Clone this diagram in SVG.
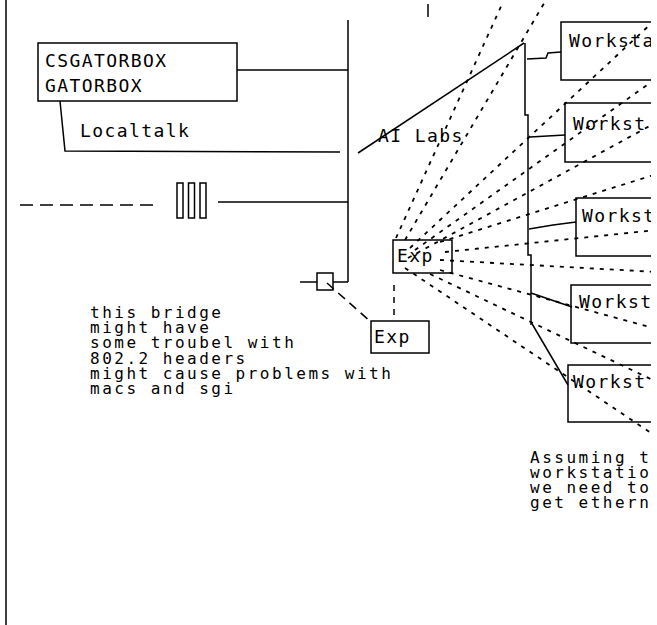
<svg xmlns="http://www.w3.org/2000/svg" width="657" height="625" viewBox="0 0 657 625">
<defs>
  <clipPath id="page"><rect x="0" y="0" width="651" height="625"/></clipPath>
</defs>
<style>
  .ln{fill:none;stroke:#000;stroke-width:1.5}
  .box{fill:none;stroke:#000;stroke-width:1.5}
  .ray{fill:none;stroke:#000;stroke-width:1.8;stroke-dasharray:4 6}
  .dash{fill:none;stroke:#000;stroke-width:1.6;stroke-dasharray:13 7}
  .lbl{font-family:"DejaVu Sans Mono","Liberation Mono",monospace;font-size:18px;letter-spacing:1.4px;fill:#000}
  .note{font-family:"DejaVu Sans Mono","Liberation Mono",monospace;font-size:16px;letter-spacing:2.5px;fill:#000}
</style>
<rect width="657" height="625" fill="#fff"/>
<g clip-path="url(#page)">
  <g id="connectors">
    <!-- page edge and backbone -->
    <line class="ln" x1="6" y1="0" x2="6" y2="625" stroke-width="2"/>
    <line class="ln" x1="348" y1="20" x2="348" y2="282"/>
    <line class="ln" x1="428" y1="4" x2="428" y2="17"/>
    <!-- gatorbox to backbone, localtalk -->
    <line class="ln" x1="237" y1="70" x2="348" y2="70"/>
    <polyline class="ln" points="60,101 65,151 340,152"/>
    <!-- repeater -->
    <line class="dash" x1="20" y1="205" x2="158" y2="205"/>
    <line class="ln" x1="218" y1="202" x2="348" y2="202"/>
    <!-- bridge -->
    <line class="ln" x1="333" y1="282" x2="348" y2="282"/>
    <line class="ln" x1="300" y1="282" x2="317" y2="282"/>
    <line class="ln" x1="327" y1="283" x2="371" y2="322" stroke-width="2" stroke-dasharray="9 6"/>
    <line class="ln" x1="394" y1="285" x2="394" y2="321" stroke-dasharray="6 6"/>
    <!-- AI Labs segment -->
    <line class="ln" x1="358" y1="153" x2="524" y2="43"/>
    <polyline class="ln" points="525,43 525,115 528,115 528,255 531,255 531,325"/>
    <!-- drops to workstations -->
    <polyline class="ln" points="527,59 546,58 548,53 561,52"/>
    <line class="ln" x1="530" y1="137" x2="565" y2="135"/>
    <polyline class="ln" points="529,229 553,225 576,222"/>
    <line class="ln" x1="531" y1="293" x2="572" y2="307"/>
    <line class="ln" x1="531" y1="322" x2="568" y2="385"/>
    <!-- fan of dotted links from Exp -->
    <line class="ray" x1="396" y1="238" x2="503" y2="2"/>
    <line class="ray" x1="405" y1="240" x2="546" y2="0"/>
    <line class="ray" x1="410" y1="248" x2="655" y2="20"/>
    <line class="ray" x1="415" y1="250" x2="657" y2="78"/>
    <line class="ray" x1="408" y1="258" x2="657" y2="122"/>
    <line class="ray" x1="440" y1="242" x2="657" y2="174"/>
    <line class="ray" x1="445" y1="252" x2="657" y2="230"/>
    <line class="ray" x1="440" y1="260" x2="657" y2="272"/>
    <line class="ray" x1="440" y1="270" x2="657" y2="329"/>
    <line class="ray" x1="430" y1="274" x2="657" y2="382"/>
    <line class="ray" x1="405" y1="268" x2="657" y2="437"/>
  </g>

  <g id="gatorbox">
    <rect class="box" x="38" y="43" width="199" height="58"/>
    <text class="lbl" x="45" y="67">CSGATORBOX</text>
    <text class="lbl" x="45" y="92">GATORBOX</text>
  </g>
  <g id="localtalk">
    <text class="lbl" x="80" y="137">Localtalk</text>
  </g>
  <g id="ailabs">
    <text class="lbl" x="378" y="142">AI Labs</text>
  </g>
  <g id="repeater">
    <rect class="box" x="177" y="183" width="6" height="35" stroke-width="2"/>
    <rect class="box" x="188.5" y="183" width="6" height="35" stroke-width="2"/>
    <rect class="box" x="200" y="183" width="6" height="35" stroke-width="2"/>
  </g>
  <g id="bridge">
    <rect class="box" x="317" y="273" width="16" height="17"/>
  </g>
  <g id="exp-upper">
    <rect class="box" x="393" y="240" width="59" height="33"/>
    <text class="lbl" x="397" y="262">Exp</text>
  </g>
  <g id="exp-lower">
    <rect class="box" x="371" y="321" width="58" height="32"/>
    <text class="lbl" x="374" y="343">Exp</text>
  </g>
  <g id="ws1">
    <rect class="box" x="561" y="22" width="140" height="58"/>
    <text class="lbl" x="569" y="47">Worksta</text>
  </g>
  <g id="ws2">
    <rect class="box" x="565" y="103" width="140" height="59"/>
    <text class="lbl" x="573" y="130">Workst</text>
  </g>
  <g id="ws3">
    <rect class="box" x="576" y="198" width="140" height="58"/>
    <text class="lbl" x="582" y="222">Workst</text>
  </g>
  <g id="ws4">
    <rect class="box" x="571" y="285" width="140" height="58"/>
    <text class="lbl" x="579" y="308">Workst</text>
  </g>
  <g id="ws5">
    <rect class="box" x="568" y="365" width="140" height="57"/>
    <text class="lbl" x="573" y="388">Workst</text>
  </g>

  <g id="bridge-note">
    <text class="note">
      <tspan x="90" y="318">this bridge</tspan>
      <tspan x="90" y="333">might have</tspan>
      <tspan x="90" y="348">some troubel with</tspan>
      <tspan x="90" y="364">802.2 headers</tspan>
      <tspan x="90" y="379">might cause problems with</tspan>
      <tspan x="90" y="394">macs and sgi</tspan>
    </text>
  </g>
  <g id="workstation-note">
    <text class="note">
      <tspan x="530" y="463">Assuming t</tspan>
      <tspan x="530" y="478">workstatio</tspan>
      <tspan x="530" y="493">we need to</tspan>
      <tspan x="530" y="508">get ethern</tspan>
    </text>
  </g>
</g>
</svg>
